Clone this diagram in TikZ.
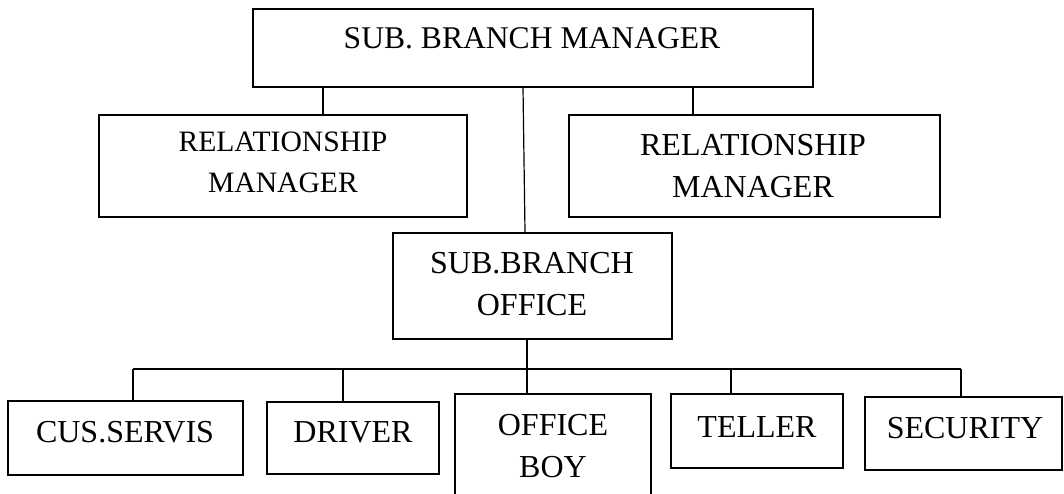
\documentclass[tikz,border=0pt]{standalone}
\usepackage{fontspec}
\setmainfont{Liberation Serif}
\usetikzlibrary{fit}
\tikzset{
  box/.style={draw, line width=1.6pt, inner sep=0pt},
  conn/.style={line width=1.5pt},
  lbl/.style={anchor=base, inner sep=0pt, font=\fontsize{32}{38}\selectfont},
  lblT/.style={anchor=base, inner sep=0pt, font=\fontsize{31.6}{38}\selectfont},
  lblS/.style={anchor=base, inner sep=0pt, font=\fontsize{29.6}{35}\selectfont},
  lblL/.style={anchor=base, inner sep=0pt, font=\fontsize{32}{38}\selectfont},
}
\begin{document}
\begin{tikzpicture}[x=1pt,y=-1pt]
\useasboundingbox (0,0) rectangle (1064,493);
% boxes
\node[box, fit={(253,9) (813,87)}] (top) {};
\node[box, fit={(99,115) (467,217)}] (rmL) {};
\node[box, fit={(569,115) (940,217)}] (rmR) {};
\node[box, fit={(393,233) (672,339)}] (off) {};
\node[box, fit={(8,401) (243,475)}] (cus) {};
\node[box, fit={(267,402) (439,474)}] (drv) {};
\node[box, fit={(455,394) (651,515)}] (ob) {};
\node[box, fit={(671,394) (843,468)}] (tel) {};
\node[box, fit={(865,397) (1062,470)}] (sec) {};
% texts
\node[lblT] (topT) at (532,48) {SUB. BRANCH MANAGER};
\node[lblS] (rmLa) at (283,151) {RELATIONSHIP};
\node[lblS] (rmLb) at (283,192) {MANAGER};
\node[lblL] (rmRa) at (753,155) {RELATIONSHIP};
\node[lblL] (rmRb) at (753,197) {MANAGER};
\node[lbl] (offa) at (532,273) {SUB.BRANCH};
\node[lbl] (offb) at (532,315) {OFFICE};
\node[lbl] (cusT) at (125,442) {CUS.SERVIS};
\node[lbl] (drvT) at (353,442) {DRIVER};
\node[lbl] (oba) at (553,435) {OFFICE};
\node[lbl] (obb) at (553,477) {BOY};
\node[lbl] (telT) at (757,437) {TELLER};
\node[lbl] (secT) at (965,438) {SECURITY};
% connector anchor columns
\coordinate (cL) at (323,0);
\coordinate (cR) at (693,0);
\coordinate (cMt) at (523,0);
\coordinate (cMb) at (525,0);
\coordinate (cO) at (527,0);
\coordinate (bar) at (0,369);
\coordinate (c1) at (133,0);
\coordinate (c2) at (343,0);
\coordinate (c4) at (731,0);
\coordinate (c5) at (961,0);
% top connectors
\draw[conn] (top.south -| cL) -- (rmL.north -| cL);
\draw[conn] (top.south -| cR) -- (rmR.north -| cR);
\draw[line width=1.2pt] (top.south -| cMt) -- (off.north -| cMb);
% lower tree
\draw[conn] (off.south -| cO) -- (bar -| cO);
\draw[conn] (bar -| c1) -- (bar -| c5);
\draw[conn] (bar -| c1) -- (cus.north -| c1);
\draw[conn] (bar -| c2) -- (drv.north -| c2);
\draw[conn] (bar -| cO) -- (ob.north -| cO);
\draw[conn] (bar -| c4) -- (tel.north -| c4);
\draw[conn] (bar -| c5) -- (sec.north -| c5);
\end{tikzpicture}
\end{document}
